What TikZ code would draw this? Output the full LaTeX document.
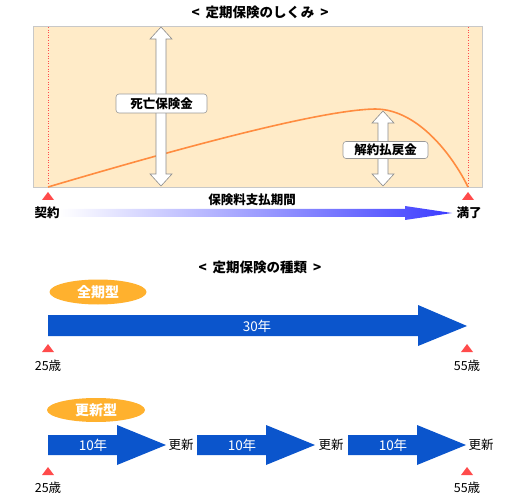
\documentclass[tikz,border=0pt]{standalone}
\usepackage{fontspec}
\setmainfont{Noto Sans CJK JP}
\usetikzlibrary{shapes.geometric}
\definecolor{peach}{RGB}{255,235,200}
\definecolor{boxgray}{RGB}{200,200,200}
\definecolor{curveor}{RGB}{255,140,64}
\definecolor{tri}{RGB}{255,75,75}
\definecolor{ablue}{RGB}{11,85,204}
\definecolor{gblue}{RGB}{60,60,255}
\definecolor{ellor}{RGB}{255,177,46}
\tikzset{
  lbl/.style={font=\fontsize{12.5}{13}\selectfont, inner sep=0pt},
  blbl/.style={font=\fontsize{12.5}{13}\selectfont\bfseries, inner sep=0pt},
  ttl/.style={font=\fontsize{13.5}{14}\selectfont\bfseries, inner sep=0pt},
  tag/.style={draw=gray!80, fill=white, rounded corners=3pt, line width=0.6pt, font=\fontsize{12.5}{13}\selectfont\bfseries, minimum height=19pt, inner sep=0pt},
  dbl/.style={draw=gray!90, fill=white, line width=0.6pt, line join=miter},
  redtri/.style={fill=tri},
  blue/.style={fill=ablue},
  wtxt/.style={text=white, font=\fontsize{13.5}{14}\selectfont, inner sep=0pt},
  pill/.style={ellipse, fill=ellor, text=white, font=\fontsize{14}{15}\selectfont\bfseries, inner sep=0pt},
}
\begin{document}
\begin{tikzpicture}[x=1pt,y=-1pt]
\useasboundingbox (0,0) rectangle (520,500);
% ---- top section ----
\node[ttl] (t1) at (260,12) {<\hspace{6pt}定期保険のしくみ\hspace{6pt}>};
\draw[fill=peach, draw=boxgray, line width=0.8pt] (33,26) rectangle (482,187);
\draw[tri, dotted, line width=0.6pt] (48,27) -- (48,187);
\draw[tri, dotted, line width=0.6pt] (468,27) -- (468,187);
\draw[curveor, line width=1.6pt] (48,187) .. controls (180,148) and (320,110) .. (375,109)
   .. controls (420,109) and (455,160) .. (468,187);
% big double arrow
\draw[dbl] (161,27) -- (172,39) -- (166,39) -- (166,174) -- (172,174) -- (161,186)
  -- (150,174) -- (156,174) -- (156,39) -- (150,39) -- cycle;
% small double arrow
\draw[dbl] (383,111) -- (394,123) -- (388,123) -- (388,174) -- (394,174) -- (383,186)
  -- (372,174) -- (378,174) -- (378,123) -- (372,123) -- cycle;
\node[tag, minimum width=91pt] (death) at (161.5,103.5) {死亡保険金};
\node[tag, minimum width=85pt, minimum height=17pt] (surr) at (385.5,150) {解約払戻金};
% timeline
\fill[redtri] (42,200) -- (54,200) -- (48,192) -- cycle;
\fill[redtri] (462,200) -- (474,200) -- (468,192) -- cycle;
\node[blbl] (start) at (47,213) {契約};
\node[blbl] (end) at (469,213) {満了};
\node[blbl] (period) at (252,200) {保険料支払期間};
\shade[left color=white, right color=gblue] (60,209) -- (405,209) -- (405,206) -- (452,213)
  -- (405,220) -- (405,217) -- (60,217) -- cycle;
% ---- bottom section ----
\node[ttl] (t2) at (260,267) {<\hspace{6pt}定期保険の種類\hspace{6pt}>};
\node[pill, minimum width=97pt, minimum height=25pt] (full) at (98,292) {全期型};
\fill[blue] (48,315) -- (418,315) -- (418,305) -- (467,326) -- (418,346) -- (418,336) -- (48,336) -- cycle;
\node[wtxt] (y30) at (257,326) {30年};
\fill[redtri] (42,352) -- (54,352) -- (48,344) -- cycle;
\fill[redtri] (461,352) -- (473,352) -- (467,344) -- cycle;
\node[lbl] (a25a) at (48,366) {25歳};
\node[lbl] (a55a) at (467,366) {55歳};
\node[pill, minimum width=98pt, minimum height=24pt] (renew) at (96,410) {更新型};
\foreach \s/\n in {48/1,197/2,348/3} {
  \fill[blue] (\s,435) -- (\s+69,435) -- (\s+69,425) -- (\s+118,445) -- (\s+69,465)
     -- (\s+69,455) -- (\s,455) -- cycle;
  \node[wtxt] (y10\n) at (\s+45,445) {10年};
}
\node[lbl] (r1) at (181,445) {更新};
\node[lbl] (r2) at (331,445) {更新};
\node[lbl] (r3) at (481,445) {更新};
\fill[redtri] (42,475) -- (54,475) -- (48,467) -- cycle;
\fill[redtri] (461,475) -- (473,475) -- (467,467) -- cycle;
\node[lbl] (a25b) at (48,488) {25歳};
\node[lbl] (a55b) at (467,488) {55歳};
\end{tikzpicture}
\end{document}
